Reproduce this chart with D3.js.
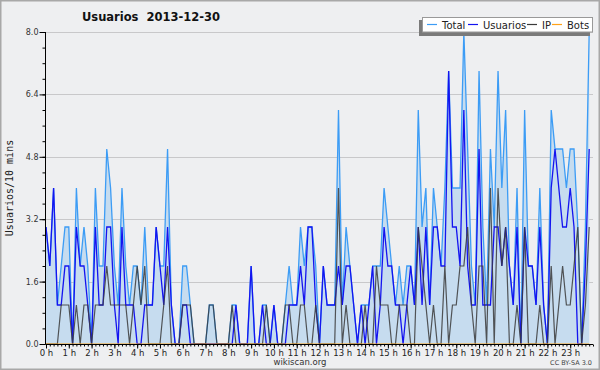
<!DOCTYPE html>
<html>
<head>
<meta charset="utf-8">
<script src="https://cdn.jsdelivr.net/npm/d3@7"></script>
<style>
  html, body { margin: 0; padding: 0; background: #eeeff1; }
  svg { display: block; }
</style>
</head>
<body>
<div id="chart"></div>
<script>
const width = 600;
const height = 370;

// valores cada 10 minutos (144 puntos)
const total = [
  3, 2, 4, 1, 2, 3, 3, 0, 4, 2, 3, 2, 0, 4, 2, 2, 5, 4, 2, 1, 4, 2, 1, 2,
  2, 1, 3, 1, 1, 3, 2, 2, 5, 1, 0, 0, 2, 2, 1, 0, 0, 0, 0, 1, 1, 0, 0, 0,
  0, 1, 1, 0, 0, 0, 2, 0, 0, 1, 1, 0, 1, 0, 0, 1, 2, 1, 1, 3, 2, 3, 3, 2,
  0, 2, 1, 1, 1, 6, 1, 3, 2, 1, 0, 1, 1, 1, 2, 2, 2, 4, 3, 2, 1, 2, 1, 2,
  2, 1, 6, 3, 4, 1, 4, 3, 2, 4, 7, 4, 4, 4, 8, 5, 2, 1, 7, 3, 1, 5, 3, 7,
  4, 6, 2, 1, 4, 0, 6, 2, 2, 1, 4, 1, 0, 6, 5, 5, 5, 4, 5, 5, 3, 0, 3, 8,
];
const usuarios = [
  3, 2, 4, 1, 1, 2, 2, 0, 3, 2, 2, 1, 0, 3, 1, 1, 3, 3, 1, 0, 3, 1, 1, 1,
  0, 0, 1, 1, 1, 3, 2, 1, 3, 1, 0, 0, 1, 1, 0, 0, 0, 0, 0, 0, 0, 0, 0, 0,
  0, 0, 1, 0, 0, 0, 2, 0, 0, 1, 0, 0, 1, 0, 0, 0, 1, 1, 1, 2, 1, 3, 3, 1,
  0, 2, 1, 1, 1, 2, 1, 2, 2, 1, 0, 1, 0, 1, 2, 0, 1, 3, 2, 2, 1, 1, 0, 1,
  2, 1, 3, 1, 3, 1, 3, 3, 2, 2, 7, 3, 3, 2, 6, 2, 1, 1, 5, 1, 1, 1, 3, 3,
  2, 3, 2, 1, 3, 0, 3, 2, 2, 1, 3, 1, 0, 4, 5, 4, 3, 3, 4, 3, 0, 0, 2, 5,
];
const ip = [
  0, 0, 0, 0, 1, 1, 1, 0, 1, 0, 1, 1, 0, 1, 1, 1, 2, 1, 1, 1, 1, 1, 0, 1,
  2, 1, 2, 0, 0, 0, 0, 1, 2, 0, 0, 0, 1, 1, 1, 0, 0, 0, 0, 1, 1, 0, 0, 0,
  0, 1, 0, 0, 0, 0, 0, 0, 0, 0, 1, 0, 0, 0, 0, 1, 1, 0, 0, 1, 1, 0, 0, 1,
  0, 0, 0, 0, 0, 4, 0, 1, 0, 0, 0, 0, 1, 0, 0, 2, 1, 1, 1, 0, 0, 1, 1, 1,
  0, 0, 3, 2, 1, 0, 1, 0, 0, 2, 0, 1, 1, 2, 2, 3, 1, 0, 2, 2, 0, 4, 0, 4,
  2, 3, 0, 0, 1, 0, 3, 0, 0, 0, 1, 0, 0, 2, 0, 1, 2, 1, 1, 2, 3, 0, 1, 3,
];
const bots = total.map(() => 0);

const yTicks = [0, 1.6, 3.2, 4.8, 6.4, 8.0];
const hours = d3.range(0, 24);
const legendItems = [
  {name: 'Total', color: '#3c9cf5'},
  {name: 'Usuarios', color: '#1414f0'},
  {name: 'IP', color: '#3a3a3a'},
  {name: 'Bots', color: '#ffa31a'},
];

const x = d3.scaleLinear().domain([0, 144]).range([46, 593]);
const y = d3.scaleLinear().domain([0, 8]).range([344, 32]);

const svg = d3.select('#chart').append('svg')
  .attr('width', width)
  .attr('height', height);

svg.append('rect')
  .attr('x', 0.75).attr('y', 0.75)
  .attr('width', width - 1.5).attr('height', height - 1.5)
  .attr('fill', '#eeeff1')
  .attr('stroke', '#a8a8a8')
  .attr('stroke-width', 1.5);

// rejilla
svg.append('g')
  .selectAll('line')
  .data(yTicks.slice(1))
  .join('line')
  .attr('x1', x(0)).attr('x2', x(144))
  .attr('y1', (d) => Math.round(y(d)) + 0.5)
  .attr('y2', (d) => Math.round(y(d)) + 0.5)
  .attr('stroke', '#c8c8ca')
  .attr('stroke-width', 1);

const line = (arr) => d3.line()
  .x((d, i) => x(i))
  .y((d) => y(d))(arr);

const area = d3.area()
  .x((d, i) => x(i))
  .y0(y(0))
  .y1((d) => y(d));

svg.append('path')
  .attr('d', area(total))
  .attr('fill', '#c6dcef');

svg.append('path')
  .attr('d', line(total))
  .attr('fill', 'none')
  .attr('stroke', legendItems[0].color)
  .attr('stroke-width', 1.3);

svg.append('path')
  .attr('d', line(usuarios))
  .attr('fill', 'none')
  .attr('stroke', legendItems[1].color)
  .attr('stroke-width', 1.3);

svg.append('path')
  .attr('d', line(ip))
  .attr('fill', 'none')
  .attr('stroke', legendItems[2].color)
  .attr('stroke-opacity', 0.85)
  .attr('stroke-width', 1.2);

svg.append('path')
  .attr('d', line(bots))
  .attr('fill', 'none')
  .attr('stroke', legendItems[3].color)
  .attr('stroke-width', 1.2);

// eje Y
const yMinor = svg.append('g')
  .attr('transform', 'translate(45.5,0)')
  .call(d3.axisLeft(y).tickValues(d3.range(0, 8.01, 0.4)).tickSize(3).tickFormat(''));
yMinor.select('.domain').remove();

const yAxis = svg.append('g')
  .attr('transform', 'translate(45.5,0)')
  .call(d3.axisLeft(y).tickValues(yTicks).tickSize(6).tickPadding(1).tickFormat(d3.format('.1f')));
yAxis.select('.domain').attr('d', `M0,${y(8)}V${y(0)}`);
yAxis.selectAll('text')
  .attr('font-family', 'DejaVu Sans')
  .attr('font-size', 8)
  .attr('fill', '#333');

// eje X
const xMinor = svg.append('g')
  .attr('transform', `translate(0,${y(0) + 0.5})`)
  .call(d3.axisBottom(x).tickValues(d3.range(0, 145, 1)).tickSize(2).tickFormat(''));
xMinor.select('.domain').remove();

const xAxis = svg.append('g')
  .attr('transform', `translate(0,${y(0) + 0.5})`)
  .call(d3.axisBottom(x).tickValues(hours.map((h) => h * 6)).tickSize(4).tickPadding(1)
    .tickFormat((d) => `${d / 6} h`));
xAxis.select('.domain').attr('d', `M${x(0) - 0.5},0H${x(144)}`);
xAxis.selectAll('text')
  .attr('font-family', 'DejaVu Sans')
  .attr('font-size', 8.5)
  .attr('fill', '#222');

// textos
svg.append('text')
  .attr('x', 151).attr('y', 21)
  .attr('text-anchor', 'middle')
  .attr('font-family', 'DejaVu Sans')
  .attr('font-weight', 'bold')
  .attr('font-size', 11.5)
  .attr('fill', '#111')
  .attr('xml:space', 'preserve')
  .text('Usuarios  2013-12-30');

svg.append('text')
  .attr('transform', 'translate(13,188) rotate(-90)')
  .attr('text-anchor', 'middle')
  .attr('font-family', 'DejaVu Sans Mono')
  .attr('font-size', 10)
  .attr('fill', '#222')
  .text('Usuarios/10 mins');

svg.append('text')
  .attr('x', 300).attr('y', 365)
  .attr('text-anchor', 'middle')
  .attr('font-family', 'DejaVu Sans')
  .attr('font-size', 8.5)
  .attr('fill', '#333')
  .text('wikiscan.org');

svg.append('text')
  .attr('x', 592).attr('y', 365)
  .attr('text-anchor', 'end')
  .attr('font-family', 'DejaVu Sans')
  .attr('font-size', 6.5)
  .attr('fill', '#444')
  .text('CC BY-SA 3.0');

// leyenda
const legend = svg.append('g');
legend.append('rect')
  .attr('x', 419).attr('y', 20).attr('width', 171).attr('height', 16)
  .attr('fill', '#7a7a7a');
legend.append('rect')
  .attr('x', 422.5).attr('y', 17.5).attr('width', 170).attr('height', 14.5)
  .attr('fill', '#fff')
  .attr('stroke', '#999');

const legendX = [427, 468, 527, 552];
legendItems.forEach((item, i) => {
  legend.append('line')
    .attr('x1', legendX[i]).attr('x2', legendX[i] + 10)
    .attr('y1', 24.5).attr('y2', 24.5)
    .attr('stroke', item.color)
    .attr('stroke-width', 1.2);
  legend.append('text')
    .attr('x', legendX[i] + 15).attr('y', 28.5)
    .attr('font-family', 'DejaVu Sans')
    .attr('font-size', 10)
    .attr('fill', '#222')
    .text(item.name);
});
</script>
</body>
</html>
